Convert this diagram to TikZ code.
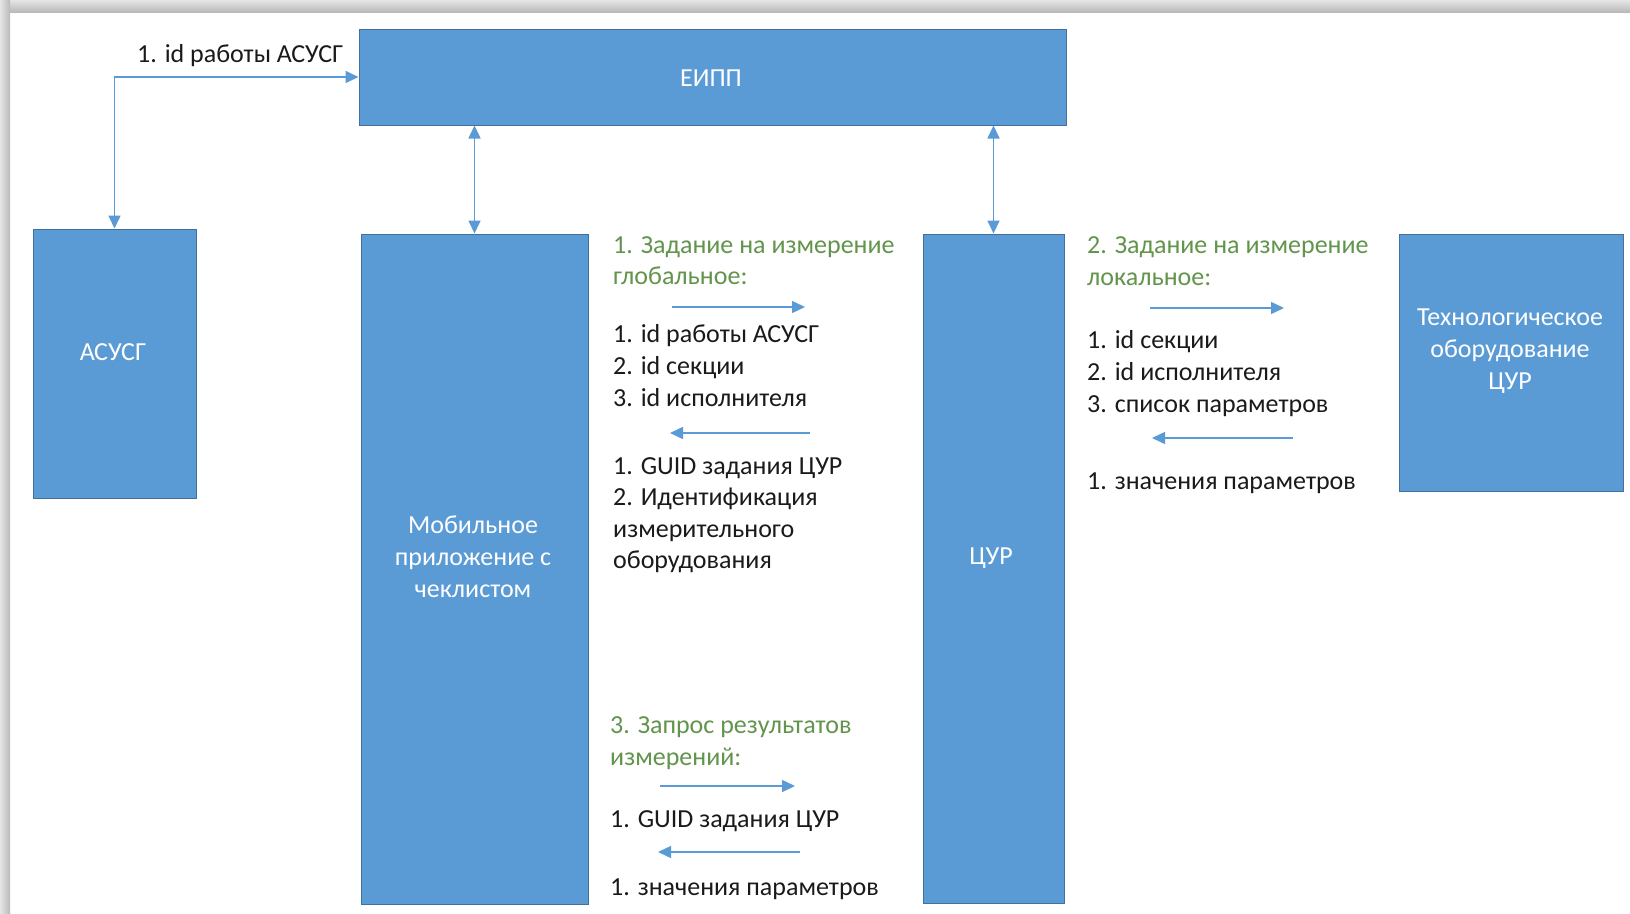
\documentclass[tikz,border=0pt]{standalone}
\usepackage{fontspec}
\setmainfont{Carlito}
\usetikzlibrary{arrows.meta}
\definecolor{boxblue}{HTML}{5B9BD5}
\definecolor{boxborder}{HTML}{41719C}
\definecolor{arrowblue}{HTML}{5B9BD5}
\definecolor{headgreen}{HTML}{62944C}
\definecolor{textgray}{HTML}{1A1A1A}
\tikzset{
  box/.style={draw=boxborder, fill=boxblue, line width=1pt, inner sep=0pt},
  boxtext/.style={text=white, inner sep=0pt, align=center, font=\fontsize{26}{32}\selectfont},
  txt/.style={anchor=base west, inner sep=0pt, text=textgray, font=\fontsize{26}{31.5}\selectfont},
  head/.style={txt, text=headgreen},
  tip/.tip={Triangle[length=13pt,width=12pt]},
  flow/.style={draw=arrowblue, line width=1.5pt, -tip},
  link/.style={draw=arrowblue, line width=1.7pt, tip-tip}
}
\begin{document}
\begin{tikzpicture}[x=1pt,y=-1pt]
\useasboundingbox (0,0) rectangle (1630,913);
\fill[white] (0,0) rectangle (1630,913);
% page shadow
\shade[top color=gray!20, bottom color=gray!55] (0,0) rectangle (1630,12);
\shade[left color=gray!20, right color=gray!55] (0,0) rectangle (10,913);

% boxes
\node[box, minimum width=707pt, minimum height=96pt] (eipp) at (712.5,77) {};
\node[box, minimum width=163pt, minimum height=269pt] (asusg) at (114.5,363.5) {};
\node[box, minimum width=227pt, minimum height=670pt] (mob) at (474.5,569) {};
\node[box, minimum width=141pt, minimum height=669pt] (cur) at (993.5,568.5) {};
\node[box, minimum width=224pt, minimum height=257pt] (tech) at (1511,362.5) {};

% box texts
\node[boxtext] (eippt) at (711,78) {ЕИПП};
\node[boxtext] (asusgt) at (113,352) {АСУСГ};
\node[boxtext] (mobt) at (473,557) {Мобильное\\приложение с\\чеклистом};
\node[boxtext] (curt) at (991,558) {ЦУР};
\node[boxtext] (techt) at (1510,351) {Технологическое\\оборудование\\ЦУР};

% connectors between boxes
\draw[link] (eipp.west) -| (asusg.north);
\node[txt] (lbl) at (137,62) {1. id работы АСУСГ};
\draw[link] (mob.north) -- (mob.north |- eipp.south);
\draw[link] (cur.north) -- (cur.north |- eipp.south);

% block 1
\node[head] (h1a) at (613,253) {1. Задание на измерение};
\node[head] (h1b) at (613,284) {глобальное:};
\coordinate (a1s) at (672,307); \coordinate (a1e) at (805,307);
\draw[flow] (a1s) -- (a1e);
\node[txt] (t1a) at (613,342) {1. id работы АСУСГ};
\node[txt] (t1b) at (613,374) {2. id секции};
\node[txt] (t1c) at (613,406) {3. id исполнителя};
\coordinate (b1s) at (810,433); \coordinate (b1e) at (670,433);
\draw[flow] (b1s) -- (b1e);
\node[txt] (t1d) at (613,474) {1. GUID задания ЦУР};
\node[txt] (t1e) at (613,505) {2. Идентификация};
\node[txt] (t1f) at (613,537) {измерительного};
\node[txt] (t1g) at (613,568) {оборудования};

% block 2
\node[head] (h2a) at (1087,253) {2. Задание на измерение};
\node[head] (h2b) at (1087,285) {локальное:};
\coordinate (a2s) at (1150,308); \coordinate (a2e) at (1284,308);
\draw[flow] (a2s) -- (a2e);
\node[txt] (t2a) at (1087,348) {1. id секции};
\node[txt] (t2b) at (1087,380) {2. id исполнителя};
\node[txt] (t2c) at (1087,412) {3. список параметров};
\coordinate (b2s) at (1293,438); \coordinate (b2e) at (1152,438);
\draw[flow] (b2s) -- (b2e);
\node[txt] (t2d) at (1087,489) {1. значения параметров};

% block 3
\node[head] (h3a) at (610,733) {3. Запрос результатов};
\node[head] (h3b) at (610,765) {измерений:};
\coordinate (a3s) at (660,786); \coordinate (a3e) at (795,786);
\draw[flow] (a3s) -- (a3e);
\node[txt] (t3a) at (610,827) {1. GUID задания ЦУР};
\coordinate (b3s) at (800,852); \coordinate (b3e) at (658,852);
\draw[flow] (b3s) -- (b3e);
\node[txt] (t3b) at (610,895) {1. значения параметров};
\end{tikzpicture}
\end{document}
